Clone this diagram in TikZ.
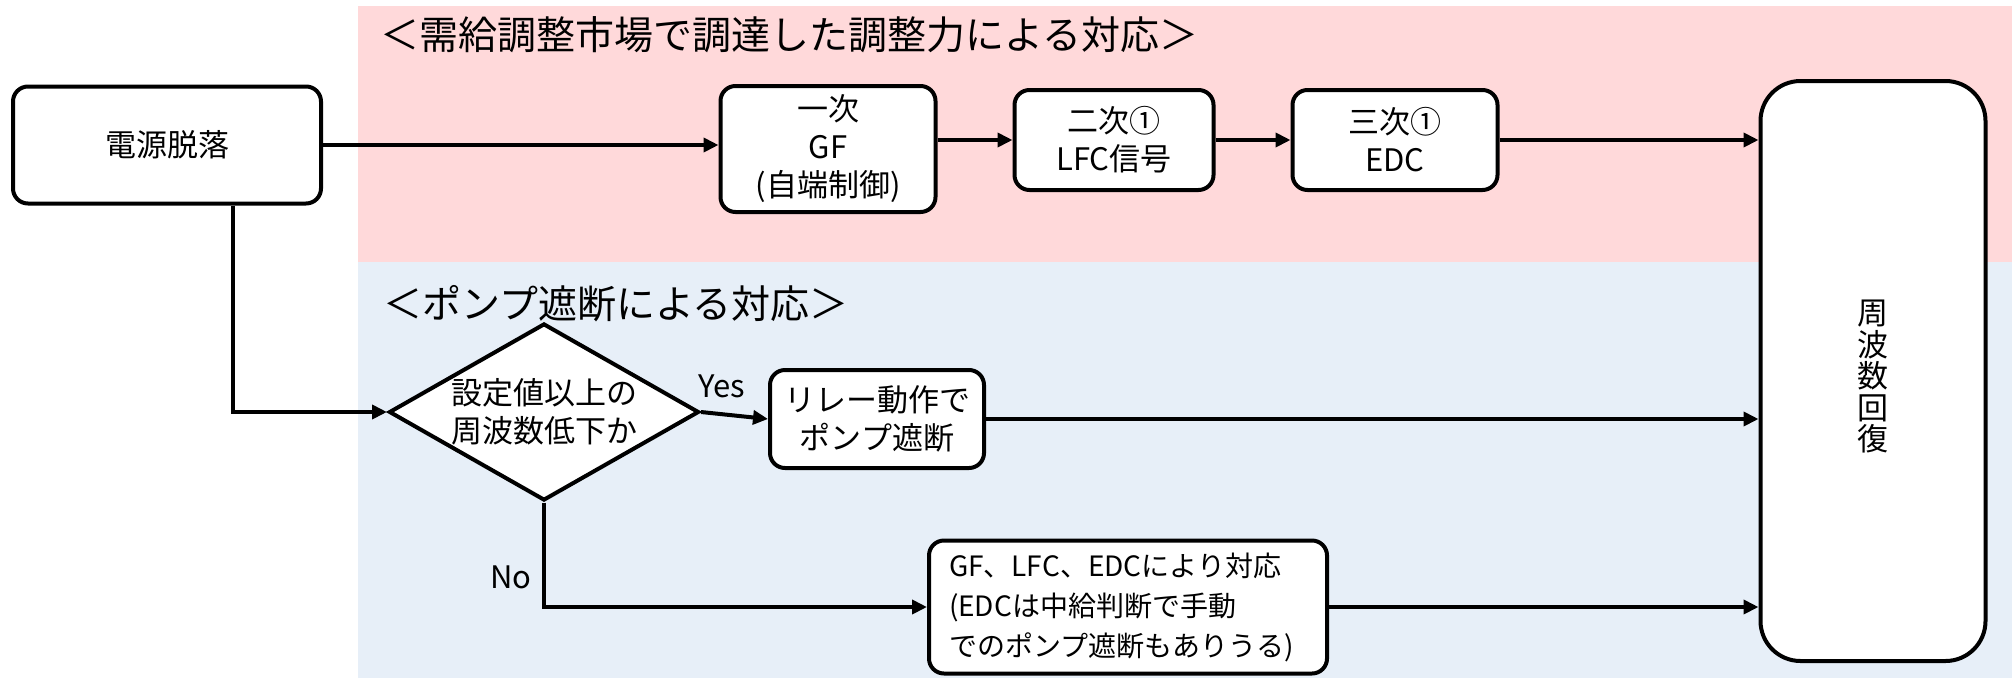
\documentclass[tikz,border=0pt]{standalone}
\usepackage{fontspec}
\setmainfont{Noto Sans CJK JP}
\usetikzlibrary{shapes.geometric,arrows.meta}
\definecolor{bandpink}{RGB}{255,217,218}
\definecolor{bandblue}{RGB}{231,239,248}
\begin{document}
\begin{tikzpicture}[x=1pt,y=-1pt,
  box/.style={draw,line width=4pt,rounded corners=15pt,fill=white,align=center,inner sep=0pt,font=\fontsize{31}{38}\selectfont},
  conn/.style={line width=4pt,-{Triangle[length=15pt,width=14pt]}},
  ttl/.style={font=\fontsize{39}{46}\selectfont,anchor=west,inner sep=0pt},
  lbl/.style={font=\fontsize{31}{36}\selectfont,inner sep=0pt}]
\useasboundingbox (0,0) rectangle (2012,678);
\fill[bandpink] (358,6) rectangle (2012,262);
\fill[bandblue] (358,262) rectangle (2012,678);
\node[ttl] (t1) at (380,35) {＜需給調整市場で調達した調整力による対応＞};
\node[ttl] (t2) at (383,304) {＜ポンプ遮断による対応＞};

\node[box,minimum width=308,minimum height=117] (src) at (167,145) {電源脱落};
\node[box,minimum width=215,minimum height=126] (gf1) at (828,149) {一次\\GF\\(自端制御)};
\node[box,minimum width=199,minimum height=100] (lfc) at (1114,140) {二次①\\LFC信号};
\node[box,minimum width=205,minimum height=100] (edc) at (1395,140) {三次①\\EDC};
\node[box,rounded corners=40pt,minimum width=225,minimum height=580] (rec) at (1873,371) {};
\node[lbl,align=center,font=\fontsize{31}{31.5}\selectfont] (rectxt) at (1873,377) {周\\波\\数\\回\\復};
\node[draw,line width=4pt,fill=white,diamond,aspect=1.75,inner sep=0pt,minimum width=310,minimum height=177,align=center,font=\fontsize{31}{38}\selectfont] (dia) at (544,412) {設定値以上の\\周波数低下か};
\node[box,minimum width=214,minimum height=98] (relay) at (877,419) {リレー動作で\\ポンプ遮断};
\node[box,align=left,text width=358,minimum height=133,inner xsep=20pt,font=\fontsize{28}{40}\selectfont] (gfb) at (1128,607) {GF、LFC、EDCにより対応\\(EDCは中給判断で手動\\でのポンプ遮断もありうる)};

\draw[conn] (src.east) -- (src.east -| gf1.west);
\draw[conn] (lfc.west -| gf1.east) -- (lfc.west);
\draw[conn] (lfc.east) -- (edc.west);
\draw[conn] (edc.east) -- (edc.east -| rec.west);
\coordinate (s1) at ([xshift=66pt]src.south);
\draw[conn] (s1) |- (dia.west);
\draw[conn] (dia.east) -- (relay.west);
\draw[conn] (relay.east) -- (relay.east -| rec.west);
\draw[conn] (dia.south) |- (gfb.west);
\draw[conn] (gfb.east) -- (gfb.east -| rec.west);
\node[lbl] (yes) at (722,386) {Yes};
\node[lbl] (no) at (511,577) {No};
\end{tikzpicture}
\end{document}
